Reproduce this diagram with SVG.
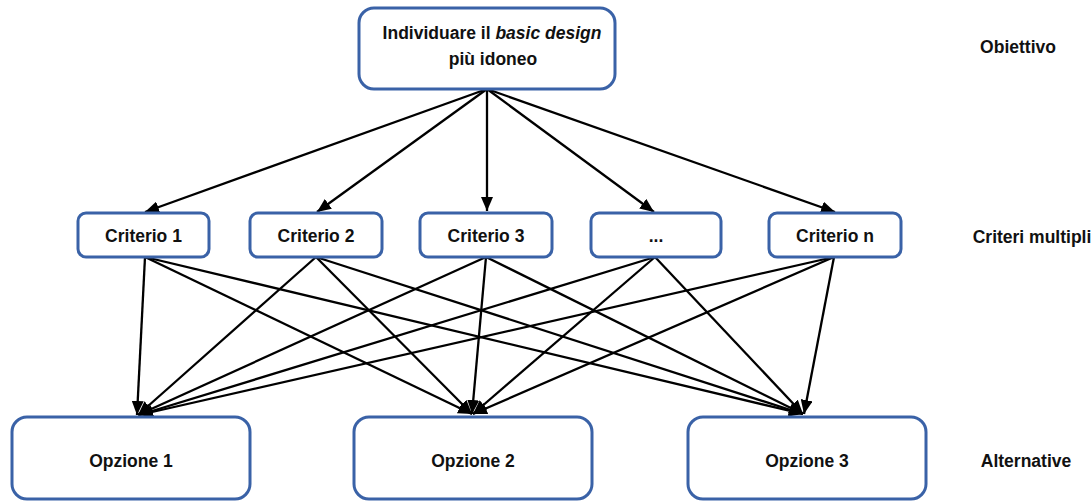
<svg xmlns="http://www.w3.org/2000/svg" width="1092" height="501" viewBox="0 0 1092 501">
<style>
.box{fill:#fff;stroke:#3A62A7;stroke-width:3}
.t{font-family:"Liberation Sans",Arial,sans-serif;font-weight:bold;font-size:17.5px;fill:#111;text-anchor:middle}
.c{stroke:#000;stroke-width:2.3;fill:none;marker-end:url(#ah)}
</style>
<defs>
<marker id="ah" markerUnits="userSpaceOnUse" markerWidth="14" markerHeight="12" viewBox="0 0 14 12" refX="14" refY="6" orient="auto">
<path d="M0,0 L14,6 L0,12 z" fill="#000"/>
</marker>
</defs>
<rect width="1092" height="501" fill="#fff"/>
<g id="connectors">
<line class="c" x1="487" y1="89" x2="145" y2="212"/>
<line class="c" x1="487" y1="89" x2="317" y2="212"/>
<line class="c" x1="487" y1="89" x2="487" y2="211"/>
<line class="c" x1="487" y1="89" x2="654" y2="212"/>
<line class="c" x1="487" y1="89" x2="835" y2="212"/>
<line class="c" x1="145" y1="257" x2="137" y2="415"/>
<line class="c" x1="145" y1="257" x2="472" y2="414"/>
<line class="c" x1="145" y1="257" x2="803" y2="414"/>
<line class="c" x1="316" y1="257" x2="138" y2="415"/>
<line class="c" x1="316" y1="257" x2="472" y2="414"/>
<line class="c" x1="316" y1="257" x2="803" y2="414"/>
<line class="c" x1="486" y1="257" x2="138" y2="415"/>
<line class="c" x1="486" y1="257" x2="472" y2="414"/>
<line class="c" x1="486" y1="257" x2="803" y2="414"/>
<line class="c" x1="655" y1="257" x2="139" y2="415"/>
<line class="c" x1="655" y1="257" x2="473" y2="414"/>
<line class="c" x1="655" y1="257" x2="803" y2="414"/>
<line class="c" x1="834" y1="257" x2="139" y2="415"/>
<line class="c" x1="834" y1="257" x2="473" y2="414"/>
<line class="c" x1="834" y1="257" x2="804" y2="414"/>
</g>
<g id="obiettivo-node">
<rect class="box" x="359" y="8" width="256" height="81" rx="15"/>
<text class="t" x="492" y="39">Individuare il <tspan font-style="italic">basic design</tspan></text>
<text class="t" x="493" y="65">più idoneo</text>
</g>
<g id="criterio1">
<rect class="box" x="78" y="213" width="131" height="44" rx="8"/>
<text class="t" x="143.5" y="242">Criterio 1</text>
</g>
<g id="criterio2">
<rect class="box" x="250" y="213" width="132" height="44" rx="8"/>
<text class="t" x="316" y="242">Criterio 2</text>
</g>
<g id="criterio3">
<rect class="box" x="420" y="213" width="132" height="44" rx="8"/>
<text class="t" x="486" y="242">Criterio 3</text>
</g>
<g id="criterio-dots">
<rect class="box" x="591" y="213" width="130" height="44" rx="8"/>
<text class="t" x="656" y="242">...</text>
</g>
<g id="criterion">
<rect class="box" x="769" y="213" width="132" height="44" rx="8"/>
<text class="t" x="835" y="242">Criterio n</text>
</g>
<g id="opzione1">
<rect class="box" x="12" y="417" width="238" height="82" rx="15"/>
<text class="t" x="131" y="467">Opzione 1</text>
</g>
<g id="opzione2">
<rect class="box" x="354" y="417" width="238" height="82" rx="15"/>
<text class="t" x="473" y="467">Opzione 2</text>
</g>
<g id="opzione3">
<rect class="box" x="688" y="417" width="238" height="82" rx="15"/>
<text class="t" x="807" y="467">Opzione 3</text>
</g>
<g id="labels">
<text class="t" x="1018" y="53">Obiettivo</text>
<text class="t" x="1032" y="243">Criteri multipli</text>
<text class="t" x="1026" y="467">Alternative</text>
</g>
</svg>
